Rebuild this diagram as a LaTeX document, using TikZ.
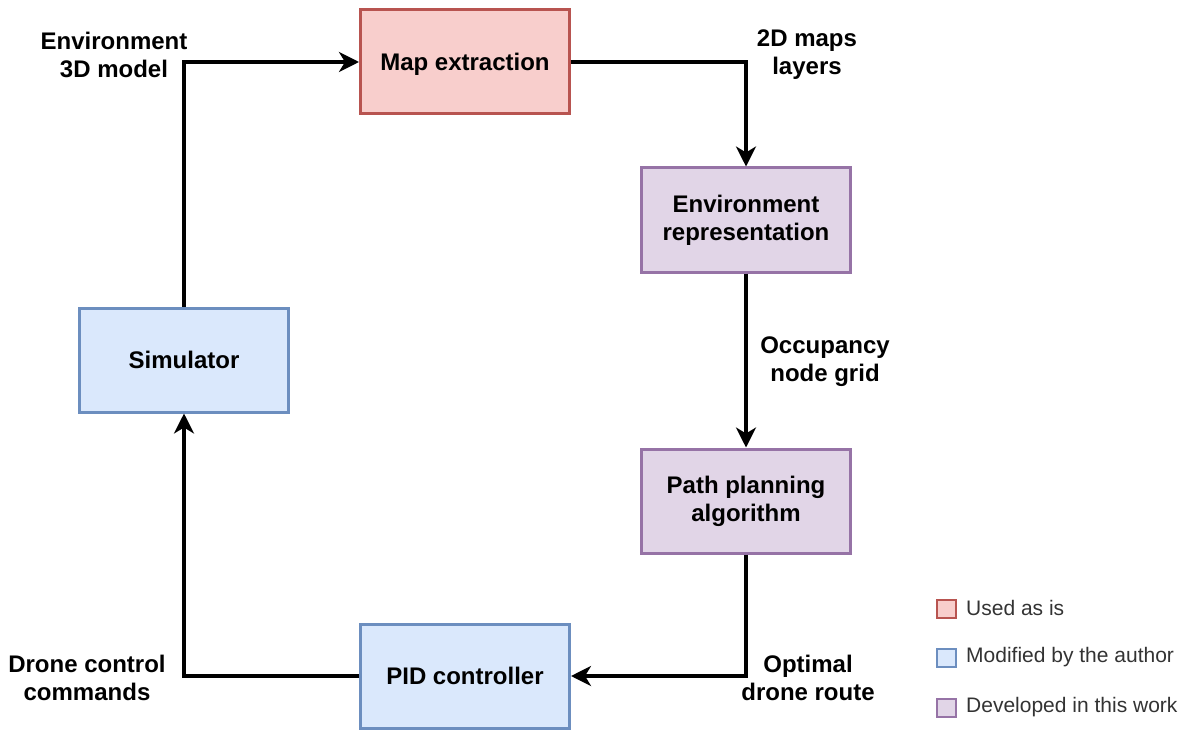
\documentclass[tikz,border=0pt]{standalone}
\usepackage{fontspec}
\setmainfont{Liberation Sans}
\usetikzlibrary{arrows.meta}
\definecolor{redfill}{HTML}{F8CECC}
\definecolor{redline}{HTML}{B85450}
\definecolor{bluefill}{HTML}{DAE8FC}
\definecolor{blueline}{HTML}{6C8EBF}
\definecolor{purplefill}{HTML}{E1D5E7}
\definecolor{purpleline}{HTML}{9673A6}
\definecolor{legendtext}{HTML}{333333}
\begin{document}
\begin{tikzpicture}[x=1pt, y=-1pt,
  block/.style={draw, line width=3pt, minimum width=209pt, minimum height=104pt,
    align=center, font=\fontsize{24}{28}\selectfont\bfseries, inner sep=0pt},
  redbox/.style={block, fill=redfill, draw=redline},
  bluebox/.style={block, fill=bluefill, draw=blueline},
  purplebox/.style={block, fill=purplefill, draw=purpleline},
  flow/.style={line width=3.3pt, line join=miter, -{Stealth[length=20pt, width=20pt, inset=6pt]}},
  lbl/.style={align=center, font=\fontsize{24}{28}\selectfont\bfseries, inner sep=0pt},
  key/.style={draw, line width=2pt, minimum width=19pt, minimum height=18pt, inner sep=0pt},
  keytext/.style={anchor=west, text=legendtext, font=\fontsize{21}{25}\selectfont, inner sep=0pt}
]
\useasboundingbox (0,0) rectangle (1183,730);

% process blocks
\node[redbox, text depth=0pt] (map) at (465,62)  {Map extraction};
\node[purplebox] (env) at (746,220) {Environment\\representation};
\node[purplebox] (path) at (746,501) {Path planning\\algorithm};
\node[bluebox]   (pid) at (465,676) {PID controller};
\node[bluebox]   (sim) at (184,360) {Simulator};

% corner points of the loop
\coordinate (c1) at (184,62);
\coordinate (c2) at (746,62);
\coordinate (c3) at (746,676);
\coordinate (c4) at (184,676);

% connectors
\draw[flow] (sim.north) -- (c1) -- (map.west);
\draw[flow] (map.east) -- (c2) -- (env.north);
\draw[flow] (env.south) -- (path.north);
\draw[flow] (path.south) -- (c3) -- (pid.east);
\draw[flow] (pid.west) -- (c4) -- (sim.south);

% data labels
\node[lbl] (l1) at (114,55)  {Environment\\3D model};
\node[lbl] (l2) at (807,55)  {2D maps\\layers};
\node[lbl] (l3) at (825,362) {Occupancy\\node grid};
\node[lbl] (l4) at (808,678) {Optimal\\drone route};
\node[lbl] (l5) at (87,678)  {Drone control\\commands};

% legend
\node[key, fill=redfill, draw=redline]       (k1) at (946,609) {};
\node[key, fill=bluefill, draw=blueline]     (k2) at (946,658) {};
\node[key, fill=purplefill, draw=purpleline] (k3) at (946,708) {};
\node[keytext] (t1) at (966,608) {Used as is};
\node[keytext] (t2) at (966,657) {Modified by the author};
\node[keytext] (t3) at (966,707) {Developed in this work};
\end{tikzpicture}
\end{document}
